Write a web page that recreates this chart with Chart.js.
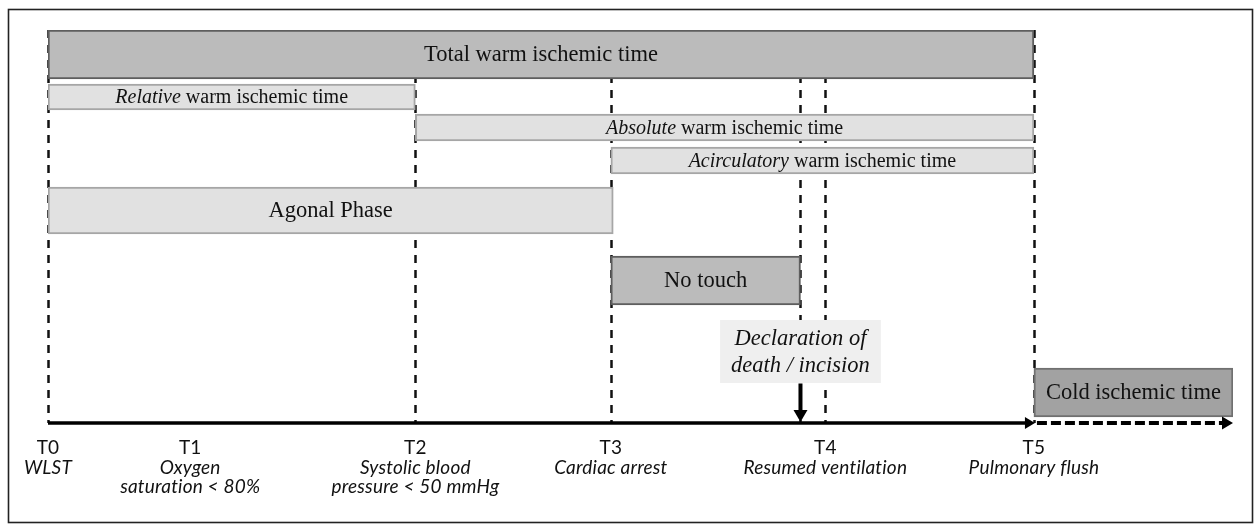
<!DOCTYPE html>
<html>
<head>
<meta charset="utf-8">
<script src="https://cdn.jsdelivr.net/npm/chart.js@4.4.0/dist/chart.umd.min.js"></script>
<style>
  html, body { margin: 0; padding: 0; background: #fff; }
  #wrap { position: relative; width: 1257px; height: 525px; }
</style>
</head>
<body>
<div id="wrap"><canvas id="timeline" width="1257" height="525"></canvas></div>
<script>
// time points along the axis (arbitrary units, T0 = 0, end of arrow = 100)
const pointNames = ['T0', 'T1', 'T2', 'T3', 'T4', 'T5'];
const pointX = [0, 12.0, 31.0, 47.5, 65.6, 83.2];
const pointNotes = [
  ['WLST'],
  ['Oxygen', 'saturation < 80%'],
  ['Systolic blood', 'pressure < 50 mmHg'],
  ['Cardiac arrest'],
  ['Resumed ventilation'],
  ['Pulmonary flush']
];
const declarationX = 63.5;
const axisEnd = 100;

// dashed guide lines
const guideX = [0, 31.0, 47.5, 63.5, 65.6, 83.2];

// phases (floating bars)
const phaseItalic = ['', 'Relative', 'Absolute', 'Acirculatory', '', '', ''];
const phaseText = [
  'Total warm ischemic time',
  ' warm ischemic time',
  ' warm ischemic time',
  ' warm ischemic time',
  'Agonal Phase',
  'No touch',
  'Cold ischemic time'
];
const phaseStart = [0, 0, 31.0, 47.5, 0, 47.5, 83.2];
const phaseEnd = [83.2, 31.0, 83.2, 83.2, 47.7, 63.5, 100];
const phaseLane = [2.45, 6.7, 9.75, 13.05, 18.05, 25.05, 36.25];

// declaration note
const declarationLines = ['Declaration of', 'death / incision'];
const declarationLane = 32.15;

// looks
const dark = { fill: '#bbbbbb', border: '#5e5e5e' };
const light = { fill: '#e1e1e1', border: '#a6a6a6' };
const cold = { fill: '#a2a2a2', border: '#707070' };
const phaseLook = [dark, light, light, light, light, dark, cold];
const phaseThickness = [49, 26, 27, 27, 47, 49, 49];
const phaseFont = [22.5, 20, 20, 20, 22.5, 22.5, 22.5];
const serif = '"Liberation Serif", "Times New Roman", serif';
const sans = 'Lato, "Liberation Sans", sans-serif';

const datasets = phaseText.map((t, i) => ({
  label: phaseItalic[i] + t,
  data: [{ x: [phaseStart[i], phaseEnd[i]], y: phaseLane[i] }],
  backgroundColor: phaseLook[i].fill,
  borderColor: phaseLook[i].border,
  borderWidth: 2,
  borderSkipped: false,
  barThickness: phaseThickness[i],
  grouped: false
}));

function drawArrowHead(ctx, tipX, tipY, dir, len, half) {
  ctx.beginPath();
  if (dir === 'right') {
    ctx.moveTo(tipX, tipY);
    ctx.lineTo(tipX - len, tipY - half);
    ctx.lineTo(tipX - len, tipY + half);
  } else {
    ctx.moveTo(tipX, tipY);
    ctx.lineTo(tipX - half, tipY - len);
    ctx.lineTo(tipX + half, tipY - len);
  }
  ctx.closePath();
  ctx.fill();
}

const timelinePlugin = {
  id: 'timeline',
  beforeDatasetsDraw(chart) {
    const { ctx, chartArea, scales } = chart;
    ctx.save();
    ctx.strokeStyle = '#111';
    ctx.lineWidth = 2.5;
    ctx.setLineDash([8, 7]);
    guideX.forEach(v => {
      const px = Math.round(scales.x.getPixelForValue(v)) + 0.5;
      ctx.beginPath();
      ctx.moveTo(px, chartArea.top);
      ctx.lineTo(px, chartArea.bottom);
      ctx.stroke();
    });
    ctx.restore();
  },
  afterDatasetsDraw(chart) {
    const { ctx, chartArea, scales } = chart;
    const xs = scales.x, ys = scales.y;
    ctx.save();
    ctx.fillStyle = '#111';
    ctx.textBaseline = 'middle';

    // phase labels
    chart.data.datasets.forEach((ds, i) => {
      const bar = chart.getDatasetMeta(i).data[0];
      const cx = (bar.x + bar.base) / 2;
      const cy = bar.y + 1;
      const size = phaseFont[i];
      ctx.font = 'italic ' + size + 'px ' + serif;
      const wi = ctx.measureText(phaseItalic[i]).width;
      ctx.font = size + 'px ' + serif;
      const wn = ctx.measureText(phaseText[i]).width;
      let x0 = cx - (wi + wn) / 2;
      ctx.textAlign = 'left';
      if (phaseItalic[i]) {
        ctx.font = 'italic ' + size + 'px ' + serif;
        ctx.fillText(phaseItalic[i], x0, cy);
        x0 += wi;
      }
      ctx.font = size + 'px ' + serif;
      ctx.fillText(phaseText[i], x0, cy);
    });

    // main axis
    const ay = chartArea.bottom;
    const x0 = xs.getPixelForValue(pointX[0]);
    const x5 = xs.getPixelForValue(pointX[5]);
    const xe = xs.getPixelForValue(axisEnd);
    ctx.fillStyle = '#000';
    ctx.strokeStyle = '#000';
    ctx.lineWidth = 3.5;
    ctx.setLineDash([]);
    ctx.beginPath();
    ctx.moveTo(x0, ay);
    ctx.lineTo(x5 - 6, ay);
    ctx.stroke();
    drawArrowHead(ctx, x5 + 1, ay, 'right', 10, 6);
    ctx.lineWidth = 4;
    ctx.setLineDash([10, 4]);
    ctx.beginPath();
    ctx.moveTo(x5 + 3, ay);
    ctx.lineTo(xe - 9, ay);
    ctx.stroke();
    ctx.setLineDash([]);
    drawArrowHead(ctx, xe, ay, 'right', 11, 6.5);

    // declaration note
    const dx = xs.getPixelForValue(declarationX);
    const dy = ys.getPixelForValue(declarationLane);
    ctx.font = 'italic 22.5px ' + serif;
    const tw = Math.max(...declarationLines.map(l => ctx.measureText(l).width));
    ctx.fillStyle = '#efefef';
    ctx.fillRect(dx - tw / 2 - 11, dy - 31.5, tw + 22, 63);
    ctx.fillStyle = '#111';
    ctx.textAlign = 'center';
    ctx.fillText(declarationLines[0], dx, dy - 12);
    ctx.fillText(declarationLines[1], dx, dy + 15);
    ctx.fillStyle = '#000';
    ctx.fillRect(dx - 2, dy + 32, 4, ay - dy - 44);
    drawArrowHead(ctx, dx, ay - 1, 'down', 12, 7);

    // time point labels (small letter spacing also stops the "ti" ligature)
    ctx.fillStyle = '#111';
    ctx.letterSpacing = '0.2px';
    pointNames.forEach((name, i) => {
      const px = xs.getPixelForValue(pointX[i]);
      ctx.font = '19px ' + sans;
      ctx.fillText(name, px, ay + 25);
      ctx.font = 'italic 19px ' + sans;
      pointNotes[i].forEach((line, k) => ctx.fillText(line, px, ay + 45 + k * 19));
    });
    ctx.letterSpacing = '0px';

    // frame
    ctx.strokeStyle = '#222';
    ctx.lineWidth = 1.6;
    ctx.strokeRect(8.5, 9.5, chart.width - 13, chart.height - 12);
    ctx.restore();
  }
};

new Chart(document.getElementById('timeline'), {
  type: 'bar',
  data: { datasets },
  options: {
    indexAxis: 'y',
    responsive: false,
    devicePixelRatio: 1,
    animation: false,
    layout: { padding: { left: 48, right: 24, top: 30, bottom: 102 } },
    scales: {
      x: { type: 'linear', min: 0, max: axisEnd, display: false },
      y: { type: 'linear', min: 0, max: 39.3, reverse: true, offset: false, display: false }
    },
    plugins: {
      legend: { display: false },
      tooltip: { enabled: false }
    }
  },
  plugins: [timelinePlugin]
});
</script>
</body>
</html>
